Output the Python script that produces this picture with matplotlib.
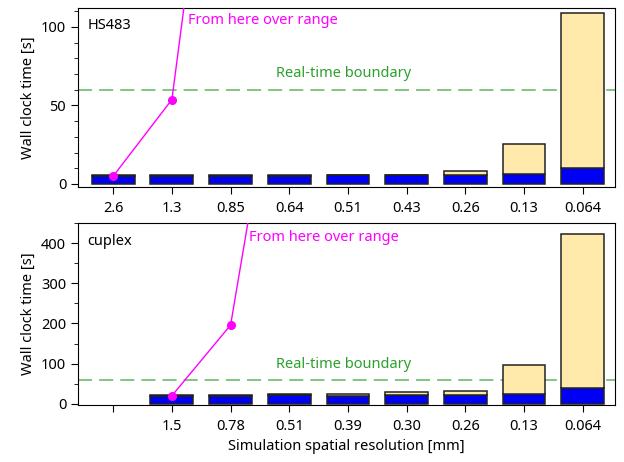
import numpy as np
import matplotlib
matplotlib.use("Agg")
import matplotlib.pyplot as plt
from matplotlib.ticker import MultipleLocator

plt.rcParams['font.family'] = ['Noto Sans', 'DejaVu Sans']
plt.rcParams['font.size'] = 10.5

# HS483
res_hs = ["2.6", "1.3", "0.85", "0.64", "0.51", "0.43", "0.26", "0.13", "0.064"]
blue_hs = [5.3, 5.3, 5.3, 5.3, 5.5, 5.5, 5.7, 6.4, 10.4]
yellow_hs = [0.2, 0.2, 0.3, 0.5, 0.5, 0.5, 2.8, 19.0, 98.6]
line_hs = [5.0, 53.7, 340.0]

# cuplex (first slot empty)
res_cu = ["", "1.5", "0.78", "0.51", "0.39", "0.30", "0.26", "0.13", "0.064"]
blue_cu = [0, 20, 20, 22, 20, 21, 21, 24, 39]
yellow_cu = [0, 1, 1, 2, 4, 9, 12, 72, 384]
line_cu = [20.0, 196.0, 1060.0]

realtime = 60

blue = '#0000f5'
yellow = '#ffeaab'
magenta = '#ff00ff'
green = '#2ca02c'

fig = plt.figure(figsize=(6.24, 4.62), dpi=100)
ax1 = fig.add_axes([0.125, 0.595, 0.8606, 0.3877])
ax2 = fig.add_axes([0.125, 0.1234, 0.8606, 0.3939])


def draw(ax, labels, b, y, line, x0, ylim, minor, name, txt_from, txt_rt):
    x = np.arange(len(labels))
    b = np.array(b, dtype=float)
    y = np.array(y, dtype=float)
    mask = b > 0
    ax.bar(x[mask], b[mask], width=0.73, color=blue, edgecolor='#222222', linewidth=1.1, zorder=2)
    ax.bar(x[mask], y[mask], bottom=b[mask], width=0.73, color=yellow, edgecolor='#222222', linewidth=1.1, zorder=2)
    lx = np.arange(len(line)) + x0
    ax.plot(lx, line, '-o', color=magenta, lw=1, ms=5.5, zorder=3)
    ax.axhline(realtime, color=green, alpha=0.65, ls=(0, (7.8, 3.9)), lw=1.3, zorder=1)
    ax.text(txt_rt[0], txt_rt[1], "Real-time boundary", color=green, ha='left', va='center')
    ax.text(txt_from[0], txt_from[1], "From here over range", color=magenta, ha='left', va='center')
    ax.text(0.017, 0.9, name, transform=ax.transAxes, ha='left', va='center')
    ax.set_xticks(x)
    ax.set_xticklabels(labels)
    ax.tick_params(axis='x', length=5, pad=5)
    ax.tick_params(axis='y', which='major', length=5)
    ax.tick_params(axis='y', which='minor', length=3)
    ax.set_xlim(-0.6, 8.55)
    ax.set_ylim(*ylim)
    ax.yaxis.set_minor_locator(MultipleLocator(minor))
    ax.set_ylabel("Wall clock time [s]")


draw(ax1, res_hs, blue_hs, yellow_hs, line_hs, 0, (-2, 112), 10, "HS483",
     (1.28, 104), (2.78, 70))
draw(ax2, res_cu, blue_cu, yellow_cu, line_cu, 1, (-3, 450), 50, "cuplex",
     (2.32, 413), (2.78, 98))
ax2.set_xlabel("Simulation spatial resolution [mm]")
ax2.set_yticks([0, 100, 200, 300, 400])
ax1.set_yticks([0, 50, 100])

fig.savefig("out.png", dpi=100)
